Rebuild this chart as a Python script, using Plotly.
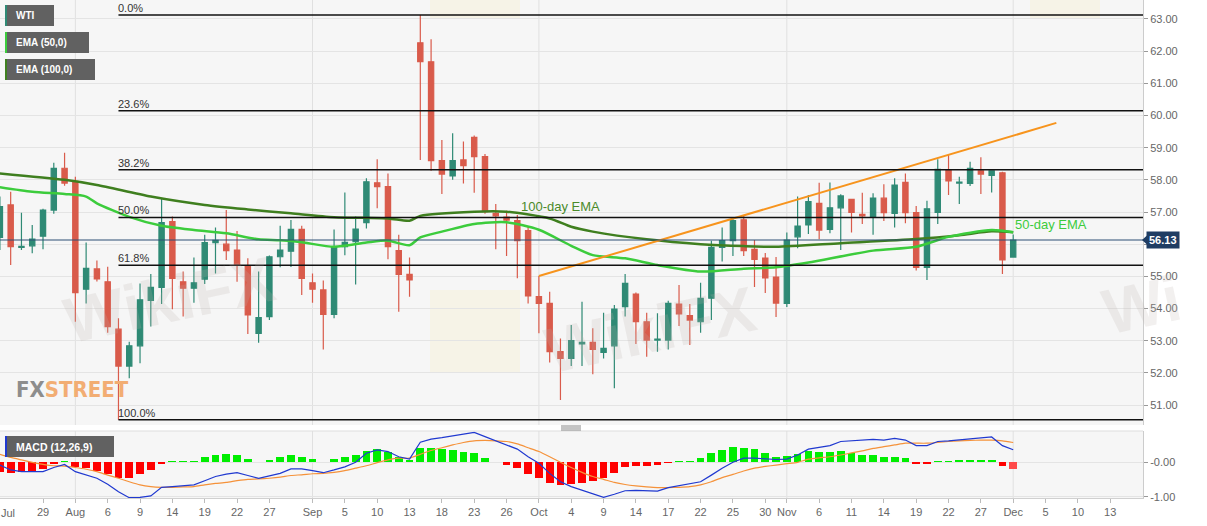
import numpy as np
import pandas as pd
import plotly.graph_objects as go

# ---------------- data ----------------
dates = pd.bdate_range("2019-07-23", "2019-12-02").strftime("%Y-%m-%d").tolist()

opens = [56.21, 57.22, 55.90, 55.95, 56.25, 57.06, 58.36, 57.95, 54.60, 55.23,
         54.83, 53.36, 52.21, 52.84, 54.25, 54.66, 56.70, 54.83, 54.63, 54.91,
         56.05, 56.00, 55.82, 55.30, 53.23, 53.75, 55.61, 55.78, 56.46, 54.80,
         54.58, 53.82, 55.92, 56.08, 56.67, 57.91, 57.79, 55.80, 55.06, 62.26,
         61.67, 58.60, 58.12, 58.62, 59.32, 58.72, 56.96, 56.84, 56.73, 56.42,
         54.37, 54.16, 52.66, 52.45, 52.90, 52.95, 52.64, 52.84, 54.06, 54.45,
         53.59, 53.02, 53.02, 54.14, 53.78, 53.59, 54.32, 55.90, 56.11, 56.76,
         55.84, 55.57, 54.98, 54.16, 56.23, 56.60, 57.27, 56.46, 57.13, 57.39,
         56.93, 56.84, 57.43, 56.96, 57.92, 56.98, 55.28, 56.99, 58.31, 57.90,
         57.89, 58.28, 58.14, 58.22, 55.60]
highs = [57.48, 57.63, 56.98, 56.60, 57.10, 58.53, 58.84, 58.10, 56.05, 55.49,
         55.30, 53.70, 52.97, 54.78, 55.07, 57.43, 56.86, 55.15, 55.59, 56.29,
         56.52, 57.06, 56.41, 55.56, 55.15, 55.65, 56.57, 56.75, 56.57, 55.09,
         54.87, 56.46, 57.61, 56.86, 58.05, 58.64, 58.20, 56.29, 55.59, 63.12,
         62.37, 59.24, 59.45, 59.19, 59.38, 58.80, 57.25, 57.04, 56.91, 56.55,
         55.01, 54.52, 53.07, 53.49, 54.21, 53.39, 53.87, 54.11, 55.07, 54.50,
         53.87, 53.85, 54.24, 54.73, 54.14, 54.80, 56.11, 56.52, 56.80, 56.91,
         56.13, 55.73, 55.60, 56.36, 57.48, 57.53, 57.91, 57.92, 57.55, 57.40,
         57.60, 57.58, 57.86, 58.05, 58.20, 57.19, 57.35, 58.64, 58.77, 58.10,
         58.56, 58.70, 58.30, 58.25, 56.30]
lows = [55.82, 55.35, 55.82, 55.72, 55.84, 56.95, 57.82, 53.59, 54.16, 54.84,
        53.25, 50.54, 51.83, 52.30, 53.44, 54.14, 53.98, 53.75, 54.18, 54.76,
        55.09, 55.51, 54.83, 53.21, 52.94, 53.64, 55.28, 55.29, 54.42, 54.18,
        52.73, 53.70, 55.66, 54.75, 56.49, 57.12, 55.53, 53.90, 54.37, 58.62,
        58.28, 57.56, 58.00, 57.89, 57.60, 56.95, 55.84, 55.63, 54.94, 54.16,
        53.23, 52.32, 51.16, 52.21, 52.21, 51.96, 52.45, 51.52, 53.75, 52.90,
        52.50, 52.66, 52.73, 53.46, 52.87, 53.25, 53.64, 55.46, 55.63, 55.63,
        54.67, 54.48, 53.74, 54.05, 55.87, 56.32, 56.15, 56.34, 55.82, 56.36,
        56.63, 56.29, 56.72, 56.52, 56.65, 55.18, 54.89, 56.63, 57.53, 57.25,
        57.81, 57.56, 57.61, 55.07, 55.58]
closes = [57.17, 55.92, 55.93, 56.16, 57.06, 58.36, 57.90, 54.49, 55.25, 54.92,
          53.44, 52.21, 52.84, 54.27, 54.66, 56.67, 54.94, 54.63, 54.80, 56.05,
          56.12, 55.80, 55.35, 53.80, 53.72, 55.61, 55.82, 56.46, 54.94, 54.60,
          53.82, 55.92, 56.06, 56.47, 57.94, 57.79, 55.92, 55.06, 54.89, 61.67,
          58.60, 58.18, 58.60, 58.44, 58.72, 57.01, 56.88, 56.75, 56.11, 54.39,
          54.16, 52.66, 52.45, 53.00, 52.95, 52.73, 52.76, 53.98, 54.78, 53.59,
          53.02, 53.05, 54.16, 53.83, 53.64, 54.32, 55.90, 56.11, 56.73, 55.80,
          55.53, 54.95, 54.17, 56.13, 56.56, 57.32, 56.44, 57.13, 57.50, 56.99,
          56.88, 57.43, 56.98, 57.84, 56.98, 55.28, 57.10, 58.33, 57.97, 57.93,
          58.36, 58.18, 58.28, 55.51, 56.13]

ema50_dates = ["2019-07-23", "2019-07-26", "2019-07-31", "2019-08-02", "2019-08-05",
               "2019-08-08", "2019-08-13", "2019-08-16", "2019-08-21", "2019-08-26",
               "2019-08-28", "2019-08-30", "2019-09-04", "2019-09-09", "2019-09-11",
               "2019-09-13", "2019-09-16", "2019-09-18", "2019-09-23", "2019-09-26",
               "2019-10-01", "2019-10-04", "2019-10-08", "2019-10-11", "2019-10-16",
               "2019-10-22", "2019-10-28", "2019-10-31", "2019-11-05", "2019-11-13",
               "2019-11-19", "2019-11-22", "2019-11-28", "2019-12-02"]
ema50_vals = [57.77, 57.63, 57.56, 57.48, 57.27, 56.85, 56.57, 56.44, 56.34, 56.15,
              56.12, 56.06, 55.92, 56.05, 56.11, 55.97, 56.21, 56.39, 56.63, 56.68,
              56.45, 55.95, 55.66, 55.56, 55.35, 55.15, 55.24, 55.28, 55.43, 55.80,
              55.92, 56.23, 56.44, 56.37]

ema100_dates = ["2019-07-23", "2019-07-31", "2019-08-05", "2019-08-12", "2019-08-19",
                "2019-08-23", "2019-08-29", "2019-09-04", "2019-09-11", "2019-09-13",
                "2019-09-16", "2019-09-23", "2019-09-26", "2019-10-02", "2019-10-04",
                "2019-10-08", "2019-10-15", "2019-10-22", "2019-10-28", "2019-10-31",
                "2019-11-08", "2019-11-19", "2019-11-25", "2019-11-28", "2019-12-02"]
ema100_vals = [58.20, 58.00, 57.84, 57.48, 57.22, 57.08, 56.96, 56.84, 56.80, 56.73,
               56.88, 57.01, 57.01, 56.80, 56.54, 56.39, 56.15, 56.00, 55.94, 55.92,
               56.03, 56.16, 56.28, 56.40, 56.37]

trend_dates = ["2019-10-01", "2019-12-06"]
trend_vals = [55.01, 59.77]

fib_start = "2019-08-07"
fib_high = 63.12
fib_low = 50.54
fib_ratios = [0.0, 0.236, 0.382, 0.5, 0.618, 1.0]
fib_labels = ["0.0%", "23.6%", "38.2%", "50.0%", "61.8%", "100.0%"]
last_price = 56.13

macd_vals = [-0.08, -0.22, -0.27, -0.27, -0.27, -0.15, -0.06, -0.27, -0.37, -0.46,
             -0.63, -0.85, -1.02, -1.01, -0.97, -0.72, -0.70, -0.68, -0.65, -0.53,
             -0.41, -0.34, -0.30, -0.38, -0.46, -0.39, -0.32, -0.19, -0.19, -0.24,
             -0.30, -0.22, -0.13, 0.00, 0.26, 0.36, 0.31, 0.16, 0.09, 0.58,
             0.67, 0.71, 0.76, 0.81, 0.86, 0.74, 0.62, 0.52, 0.38, 0.16,
             -0.03, -0.32, -0.56, -0.70, -0.80, -0.89, -1.01, -0.92, -0.82, -0.81,
             -0.83, -0.83, -0.73, -0.67, -0.63, -0.56, -0.37, -0.17, 0.00, 0.12,
             0.12, 0.10, 0.08, 0.09, 0.21, 0.38, 0.42, 0.48, 0.60, 0.62,
             0.63, 0.66, 0.64, 0.69, 0.64, 0.48, 0.48, 0.60, 0.62, 0.65,
             0.69, 0.71, 0.73, 0.48, 0.36]
signal_vals = [0.23, 0.14, 0.07, 0.00, -0.06, -0.10, -0.11, -0.15, -0.20, -0.27,
               -0.37, -0.46, -0.56, -0.65, -0.70, -0.72, -0.72, -0.71, -0.70, -0.65,
               -0.61, -0.58, -0.53, -0.49, -0.48, -0.46, -0.43, -0.38, -0.36, -0.33,
               -0.32, -0.29, -0.24, -0.17, -0.10, -0.01, 0.07, 0.12, 0.12, 0.23,
               0.34, 0.42, 0.50, 0.57, 0.62, 0.63, 0.62, 0.60, 0.53, 0.42,
               0.31, 0.16, 0.00, -0.15, -0.29, -0.41, -0.49, -0.58, -0.64, -0.68,
               -0.71, -0.73, -0.73, -0.72, -0.70, -0.65, -0.56, -0.44, -0.35, -0.25,
               -0.17, -0.12, -0.08, -0.04, 0.00, 0.09, 0.13, 0.16, 0.21, 0.27,
               0.33, 0.40, 0.45, 0.50, 0.55, 0.55, 0.55, 0.57, 0.60, 0.62,
               0.63, 0.64, 0.64, 0.62, 0.57]
hist_vals = [-0.27, -0.30, -0.29, -0.27, -0.19, -0.04, 0.04, -0.14, -0.17, -0.24,
             -0.34, -0.46, -0.46, -0.35, -0.22, -0.04, 0.04, 0.04, 0.04, 0.16,
             0.21, 0.23, 0.21, 0.09, 0.00, 0.08, 0.14, 0.21, 0.16, 0.09,
             0.00, 0.10, 0.14, 0.21, 0.34, 0.38, 0.29, 0.14, 0.06, 0.40,
             0.42, 0.38, 0.36, 0.31, 0.28, 0.13, 0.00, -0.08, -0.17, -0.34,
             -0.44, -0.59, -0.65, -0.62, -0.59, -0.53, -0.46, -0.32, -0.14, -0.10,
             -0.10, -0.09, -0.02, 0.04, 0.04, 0.12, 0.27, 0.36, 0.44, 0.40,
             0.37, 0.28, 0.16, 0.19, 0.23, 0.33, 0.31, 0.31, 0.33, 0.27,
             0.21, 0.20, 0.15, 0.16, 0.11, -0.04, -0.04, 0.05, 0.05, 0.06,
             0.08, 0.08, 0.07, -0.10, -0.18]

tick_dates = ["2019-07-29", "2019-08-01", "2019-08-06", "2019-08-09", "2019-08-14",
              "2019-08-19", "2019-08-22", "2019-08-27", "2019-09-02", "2019-09-05",
              "2019-09-10", "2019-09-13", "2019-09-18", "2019-09-23", "2019-09-26",
              "2019-10-01", "2019-10-04", "2019-10-09", "2019-10-14", "2019-10-17",
              "2019-10-22", "2019-10-25", "2019-10-30", "2019-11-01", "2019-11-06",
              "2019-11-11", "2019-11-14", "2019-11-19", "2019-11-22", "2019-11-27",
              "2019-12-02", "2019-12-05", "2019-12-10", "2019-12-13"]
tick_labels = ["29", "Aug", "6", "9", "14", "19", "22", "27", "Sep", "5",
               "10", "13", "18", "23", "26", "Oct", "4", "9", "14", "17",
               "22", "25", "30", "Nov", "6", "11", "14", "19", "22", "27",
               "Dec", "5", "10", "13"]
month_dates = ["2019-08-01", "2019-09-02", "2019-10-01", "2019-11-01", "2019-12-02"]
price_ticks = [51, 52, 53, 54, 55, 56, 57, 58, 59, 60, 61, 62, 63]

# ---------------- helpers ----------------
ORIGIN = "2019-07-29"


def pos(ds):
    return np.busday_count(ORIGIN, np.array(ds, dtype="datetime64[D]")).tolist()


xi = pos(dates)
W, H = 1207, 526
ML, MR, MT, MB = 0, 64, 0, 28
PW, PH = W - ML - MR, H - MT - MB
XMIN, XMAX = -3.99, 102.04


def px(x):
    return x / PW


def py(y):
    return (PH - y) / PH


GREEN_C = "#2f8a75"
RED_C = "#d95b4b"
EMA50_C = "#3ccc3c"
EMA100_C = "#3f7f1f"
FONT = "Liberation Sans, Arial, sans-serif"

fig = go.Figure()

fig.add_trace(go.Candlestick(
    x=xi, open=opens, high=highs, low=lows, close=closes,
    increasing=dict(line=dict(color=GREEN_C, width=1.2), fillcolor=GREEN_C),
    decreasing=dict(line=dict(color=RED_C, width=1.2), fillcolor=RED_C),
    whiskerwidth=0, showlegend=False, hoverinfo="skip", xaxis="x", yaxis="y"))

fig.add_trace(go.Scatter(x=pos(ema100_dates), y=ema100_vals, mode="lines",
                         line=dict(color=EMA100_C, width=2.5, shape="spline", smoothing=0.7),
                         showlegend=False, hoverinfo="skip", xaxis="x", yaxis="y"))
fig.add_trace(go.Scatter(x=pos(ema50_dates), y=ema50_vals, mode="lines",
                         line=dict(color=EMA50_C, width=2.5, shape="spline", smoothing=0.7),
                         showlegend=False, hoverinfo="skip", xaxis="x", yaxis="y"))
fig.add_trace(go.Scatter(x=pos(trend_dates), y=trend_vals, mode="lines",
                         line=dict(color="#f7941d", width=2),
                         showlegend=False, hoverinfo="skip", xaxis="x", yaxis="y"))

hist_colors = ["#00ee00" if v >= 0 else "#ff0000" for v in hist_vals]
hist_colors[-1] = "#ff4a4a"
fig.add_trace(go.Bar(x=xi, y=hist_vals, marker=dict(color=hist_colors, line=dict(width=0)),
                     width=0.72, showlegend=False, hoverinfo="skip", xaxis="x2", yaxis="y2"))
fig.add_trace(go.Scatter(x=xi, y=signal_vals, mode="lines",
                         line=dict(color="#f5923a", width=1.2, shape="spline", smoothing=0.5),
                         showlegend=False, hoverinfo="skip", xaxis="x2", yaxis="y2"))
fig.add_trace(go.Scatter(x=xi, y=macd_vals, mode="lines",
                         line=dict(color="#2039d0", width=1.2),
                         showlegend=False, hoverinfo="skip", xaxis="x2", yaxis="y2"))

shapes = []
annotations = []

# month grid lines
for d in pos(month_dates):
    for yr in ("y domain", "y2 domain"):
        shapes.append(dict(type="line", xref="x", yref=yr, x0=d, x1=d, y0=0, y1=1,
                           line=dict(color="#e0e0e0", width=1), layer="below"))

# fibonacci lines
fx0 = pos([fib_start])[0]
for r, lab in zip(fib_ratios, fib_labels):
    lvl = fib_high - r * (fib_high - fib_low)
    shapes.append(dict(type="line", xref="x", yref="y", x0=fx0, x1=XMAX, y0=lvl, y1=lvl,
                       line=dict(color="#111111", width=1.5)))
    annotations.append(dict(x=fx0, y=lvl, xref="x", yref="y", text=lab, showarrow=False,
                            xanchor="left", yanchor="bottom", xshift=-2, yshift=-1,
                            font=dict(family=FONT, size=11, color="#333333")))

# last price line + label with pointer
shapes.append(dict(type="line", xref="paper", yref="y", x0=0, x1=1, y0=last_price, y1=last_price,
                   line=dict(color="#2d4f74", width=1)))
shapes.append(dict(type="path", xref="paper", yref="y",
                   path="M %f,%f L %f,%f L %f,%f Z" % (px(1142), last_price, px(1147), last_price + 0.14,
                                                      px(1147), last_price - 0.14),
                   fillcolor="#1f3d63", line=dict(width=0)))
annotations.append(dict(x=px(1146), y=last_price, xref="paper", yref="y",
                        text="<b>%.2f</b>" % last_price, showarrow=False, xanchor="left",
                        yanchor="middle", bgcolor="#1f3d63", borderpad=2,
                        font=dict(family=FONT, size=11, color="white")))

# panel separator and handle
shapes.append(dict(type="line", xref="paper", yref="paper", x0=0, x1=1, y0=py(431), y1=py(431),
                   line=dict(color="#dddddd", width=1)))
for hy in (426, 428, 430):
    shapes.append(dict(type="line", xref="paper", yref="paper", x0=px(561), x1=px(581),
                       y0=py(hy), y1=py(hy), line=dict(color="#888888", width=1)))

# indicator labels (legend boxes)
boxes = [("<b>WTI</b>", 5, 54, 5, 26, "#2f8a75", 10),
         ("<b>EMA (50,0)</b>", 5, 89, 32, 53, "#3ccc3c", 10),
         ("<b>EMA (100,0)</b>", 5, 95, 59, 80, "#3f7f1f", 10),
         ("<b>MACD (12,26,9)</b>", 5, 114, 436, 457, "#2039d0", 10.5)]
for txt, x0, x1, y0, y1, sc, fs in boxes:
    shapes.append(dict(type="rect", xref="paper", yref="paper", x0=px(x0), x1=px(x1),
                       y0=py(y1), y1=py(y0), fillcolor="#616161", line=dict(width=0)))
    shapes.append(dict(type="rect", xref="paper", yref="paper", x0=px(x0), x1=px(x0 + 2),
                       y0=py(y1), y1=py(y0), fillcolor=sc, line=dict(width=0)))
    annotations.append(dict(x=px(14), y=py((y0 + y1) / 2), xref="paper", yref="paper", text=txt,
                            showarrow=False, xanchor="left", yanchor="middle",
                            font=dict(family=FONT, size=fs, color="white")))

# EMA text labels
annotations.append(dict(x=pos(["2019-10-03"])[0], y=57.16, xref="x", yref="y", text="100-day EMA",
                        showarrow=False, font=dict(family=FONT, size=13, color="#4a8a2a")))
annotations.append(dict(x=pos(["2019-12-02"])[0], y=56.6, xref="x", yref="y", text="50-day EMA",
                        showarrow=False, xanchor="left", font=dict(family=FONT, size=13, color=EMA50_C)))

# watermarks
annotations.append(dict(x=px(14), y=py(389), xref="paper", yref="paper",
                        text='<span style="color:#8d8d8d">FX</span><span style="color:#f2ad73">STREET</span>',
                        showarrow=False, xanchor="left", yanchor="middle",
                        font=dict(family="Liberation Sans Narrow, DejaVu Sans Condensed, sans-serif",
                                  size=22, weight="bold")))
for wx, wy, wt in [(55, 300, "WikiFX"), (650, 330, "WikiFX"), (1190, 305, "Wi")]:
    annotations.append(dict(x=px(wx), y=py(wy), xref="paper", yref="paper", text="<b>%s</b>" % wt,
                            showarrow=False, textangle=-12,
                            font=dict(family=FONT, size=64, color="rgba(190,180,175,0.2)")))
for lx0, ly0, lx1, ly1 in [(430, 290, 520, 372), (430, -20, 520, 18), (1030, -20, 1100, 18)]:
    shapes.append(dict(type="rect", xref="paper", yref="paper", x0=px(lx0), x1=px(lx1),
                       y0=py(ly1), y1=py(ly0), fillcolor="rgba(250,220,120,0.12)",
                       line=dict(width=0), layer="below"))

# "Jul" label at left edge
annotations.append(dict(x=0, y=py(513), xref="paper", yref="paper", text="Jul", showarrow=False,
                        xanchor="left", yanchor="middle", xshift=-1,
                        font=dict(family=FONT, size=11, color="#666666")))

fig.update_layout(
    width=W, height=H,
    margin=dict(l=ML, r=MR, t=MT, b=MB, autoexpand=False),
    paper_bgcolor="white", plot_bgcolor="#f6f6f6",
    showlegend=False, bargap=0,
    xaxis=dict(domain=[0, 1], range=[XMIN, XMAX], anchor="y", showticklabels=False,
               showgrid=False, zeroline=False, ticks="", rangeslider=dict(visible=False),
               automargin=False),
    xaxis2=dict(domain=[0, 1], range=[XMIN, XMAX], anchor="y2", matches="x",
                tickvals=pos(tick_dates), ticktext=tick_labels, ticks="outside", ticklen=4,
                tickcolor="#bbbbbb", showline=True, linecolor="#d0d0d0", showgrid=False,
                zeroline=False, tickfont=dict(family=FONT, size=11, color="#666666"),
                rangeslider=dict(visible=False), automargin=False),
    yaxis=dict(domain=[py(425), 1], range=[50.38, 63.59], side="right", anchor="x",
               tickvals=price_ticks,
               ticktext=["" if v == 56 else "%.2f" % v for v in price_ticks],
               ticks="outside", ticklen=4, tickcolor="#999999", showline=True,
               linecolor="#cccccc", gridcolor="#e4e4e4", zeroline=False, automargin=False,
               tickfont=dict(family=FONT, size=11, color="#666666")),
    yaxis2=dict(domain=[0, py(431)], range=[-1.029, 0.902], side="right", anchor="x2",
                tickvals=[0, -1], ticktext=["-0.00", "-1.00"], ticks="outside", ticklen=4,
                tickcolor="#999999", showline=True, linecolor="#cccccc", gridcolor="#e4e4e4",
                zeroline=False, automargin=False,
                tickfont=dict(family=FONT, size=11, color="#666666")),
    shapes=shapes, annotations=annotations,
)

fig.write_html("out.html", config={"displayModeBar": False, "staticPlot": True},
               post_script="document.body.style.margin='0';document.body.style.overflow='hidden';")
